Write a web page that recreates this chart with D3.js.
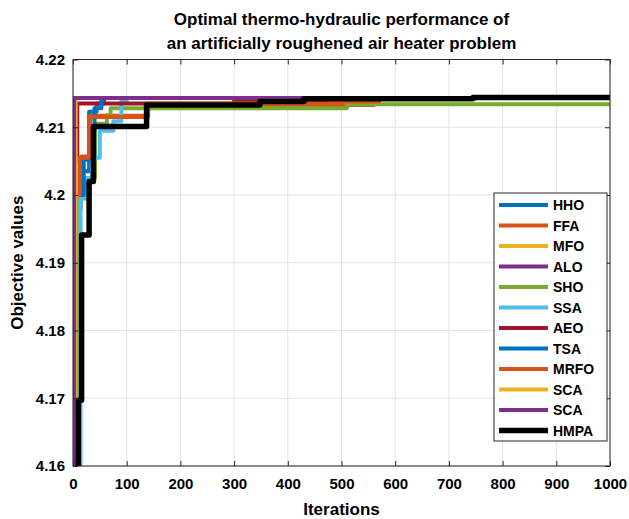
<!DOCTYPE html>
<html>
<head>
<meta charset="utf-8">
<script src="https://cdn.jsdelivr.net/npm/d3@7"></script>
<style>
  body { margin: 0; background: #fff; }
  text { font-family: "Liberation Sans", Arial, sans-serif; font-weight: bold; }
</style>
</head>
<body>
<div id="chart"></div>
<script>
let width = 629,
    height = 519,
    margin = ({ top: 59.5, right: 19, bottom: 53, left: 73 });

// data: [iteration, objective value]
const names = ["HHO", "FFA", "MFO", "ALO", "SHO", "SSA", "AEO", "TSA", "MRFO", "SCA", "SCA", "HMPA"];
const colors = ["#0072BD", "#D95319", "#EDB120", "#7E2F8E", "#77AC30", "#4DBEEE",
                "#A2142F", "#0072BD", "#D95319", "#EDB120", "#7E2F8E", "#000000"];

const hho  = [[1, 4.155], [6, 4.198], [14, 4.2035], [30, 4.2123], [44, 4.2135], [58, 4.2143], [1000, 4.2143]];
const ffa  = [[1, 4.155], [5, 4.2], [16, 4.2057], [32, 4.2117], [137, 4.2133], [560, 4.2143], [1000, 4.2143]];
const mfo  = [[1, 4.155], [4, 4.2143], [1000, 4.2143]];
const alo  = [[1, 4.155], [3, 4.2143], [1000, 4.2143]];
const sho  = [[1, 4.155], [10, 4.1995], [25, 4.2025], [41, 4.2105], [63, 4.2118], [70, 4.2128], [510, 4.2134], [1000, 4.2134]];
const ssa  = [[1, 4.155], [14, 4.1996], [22, 4.2025], [35, 4.2055], [50, 4.2095], [75, 4.2109], [90, 4.2138], [100, 4.2143], [1000, 4.2143]];
const aeo  = [[1, 4.155], [3, 4.205], [8, 4.2135], [300, 4.214], [565, 4.2143], [1000, 4.2143]];
const tsa  = [[1, 4.155], [5, 4.2], [20, 4.2052], [32, 4.2095], [40, 4.2128], [53, 4.2143], [1000, 4.2143]];
const mrfo = [[1, 4.155], [3, 4.2], [12, 4.2055], [30, 4.2115], [140, 4.2135], [480, 4.2138], [570, 4.2143], [1000, 4.2143]];
const sca1 = [[1, 4.155], [5, 4.2143], [1000, 4.2143]];
const sca2 = [[1, 4.155], [2, 4.2143], [1000, 4.2143]];
const hmpa = [[1, 4.155], [10, 4.1697], [16, 4.1941], [30, 4.202], [38, 4.2101], [137, 4.2133], [348, 4.2138], [430, 4.2142], [745, 4.2144], [1000, 4.2144]];

const series = [hho, ffa, mfo, alo, sho, ssa, aeo, tsa, mrfo, sca1, sca2, hmpa];

const xTicks = [0, 100, 200, 300, 400, 500, 600, 700, 800, 900, 1000];
const yTicks = [4.16, 4.17, 4.18, 4.19, 4.2, 4.21, 4.22];

const svg = d3.select("#chart")
    .append("svg")
    .attr("width", width)
    .attr("height", height);

let x = d3.scaleLinear()
    .domain([0, 1000])
    .range([margin.left, width - margin.right]);

let y = d3.scaleLinear()
    .domain([4.16, 4.22])
    .range([height - margin.bottom, margin.top]);

// grid
svg.append("g")
    .selectAll("line")
    .data(xTicks)
    .join("line")
    .attr("x1", d => x(d)).attr("x2", d => x(d))
    .attr("y1", y(4.16)).attr("y2", y(4.22))
    .attr("stroke", "#e3e3e3");

svg.append("g")
    .selectAll("line")
    .data(yTicks)
    .join("line")
    .attr("x1", x(0)).attr("x2", x(1000))
    .attr("y1", d => y(d)).attr("y2", d => y(d))
    .attr("stroke", "#e3e3e3");

svg.append("defs").append("clipPath")
    .attr("id", "clip")
    .append("rect")
    .attr("x", x(0)).attr("y", y(4.22))
    .attr("width", x(1000) - x(0))
    .attr("height", y(4.16) - y(4.22));

let line = d3.line()
    .x(d => x(d[0]))
    .y(d => y(d[1]))
    .curve(d3.curveStepAfter);

let plot = svg.append("g").attr("clip-path", "url(#clip)");

series.forEach((s, i) => {
  plot.append("path")
    .datum(s)
    .attr("fill", "none")
    .attr("stroke", colors[i])
    .attr("stroke-width", i === 11 ? 5.5 : 4)
    .attr("stroke-linejoin", "round")
    .attr("d", line);
});

// axes (ticks inward, box style)
svg.append("g")
    .attr("transform", `translate(0,${y(4.16)})`)
    .call(d3.axisBottom(x).tickValues(xTicks).tickSize(-5).tickPadding(12).tickFormat(d3.format("d")))
    .call(g => g.select(".domain").remove());

svg.append("g")
    .attr("transform", `translate(0,${y(4.22)})`)
    .call(d3.axisTop(x).tickValues(xTicks).tickSize(-5).tickFormat(""))
    .call(g => g.select(".domain").remove());

svg.append("g")
    .attr("transform", `translate(${x(0)},0)`)
    .call(d3.axisLeft(y).tickValues(yTicks).tickSize(-5).tickPadding(8).tickFormat(d => +d.toFixed(2)))
    .call(g => g.select(".domain").remove());

svg.append("g")
    .attr("transform", `translate(${x(1000)},0)`)
    .call(d3.axisRight(y).tickValues(yTicks).tickSize(-5).tickFormat(""))
    .call(g => g.select(".domain").remove());

svg.selectAll(".tick line").attr("stroke", "#262626");
svg.selectAll(".tick text")
    .attr("fill", "#000")
    .style("font-size", "15px")
    .style("font-weight", "bold");

svg.append("rect")
    .attr("x", x(0)).attr("y", y(4.22))
    .attr("width", x(1000) - x(0))
    .attr("height", y(4.16) - y(4.22))
    .attr("fill", "none")
    .attr("stroke", "#262626")
    .attr("stroke-width", 1);

// titles
svg.append("text")
    .attr("x", (x(0) + x(1000)) / 2).attr("y", 25)
    .attr("text-anchor", "middle")
    .style("font-size", "17px")
    .text("Optimal thermo-hydraulic performance of");

svg.append("text")
    .attr("x", (x(0) + x(1000)) / 2).attr("y", 49)
    .attr("text-anchor", "middle")
    .style("font-size", "17px")
    .text("an artificially roughened air heater problem");

svg.append("text")
    .attr("x", (x(0) + x(1000)) / 2).attr("y", 515)
    .attr("text-anchor", "middle")
    .style("font-size", "17px")
    .text("Iterations");

svg.append("text")
    .attr("transform", `translate(23,${(y(4.16) + y(4.22)) / 2}) rotate(-90)`)
    .attr("text-anchor", "middle")
    .style("font-size", "17px")
    .text("Objective values");

// legend
let legend = svg.append("g");
legend.append("rect")
    .attr("x", 494).attr("y", 193)
    .attr("width", 113).attr("height", 248)
    .attr("fill", "#fff")
    .attr("stroke", "#262626");

names.forEach((n, i) => {
  let ly = 205 + i * 20.5;
  legend.append("line")
    .attr("x1", 499).attr("x2", 548)
    .attr("y1", ly).attr("y2", ly)
    .attr("stroke", colors[i])
    .attr("stroke-width", i === 11 ? 5.5 : 4);
  legend.append("text")
    .attr("x", 553).attr("y", ly)
    .attr("dominant-baseline", "central")
    .style("font-size", "14px")
    .text(n);
});
</script>
</body>
</html>
